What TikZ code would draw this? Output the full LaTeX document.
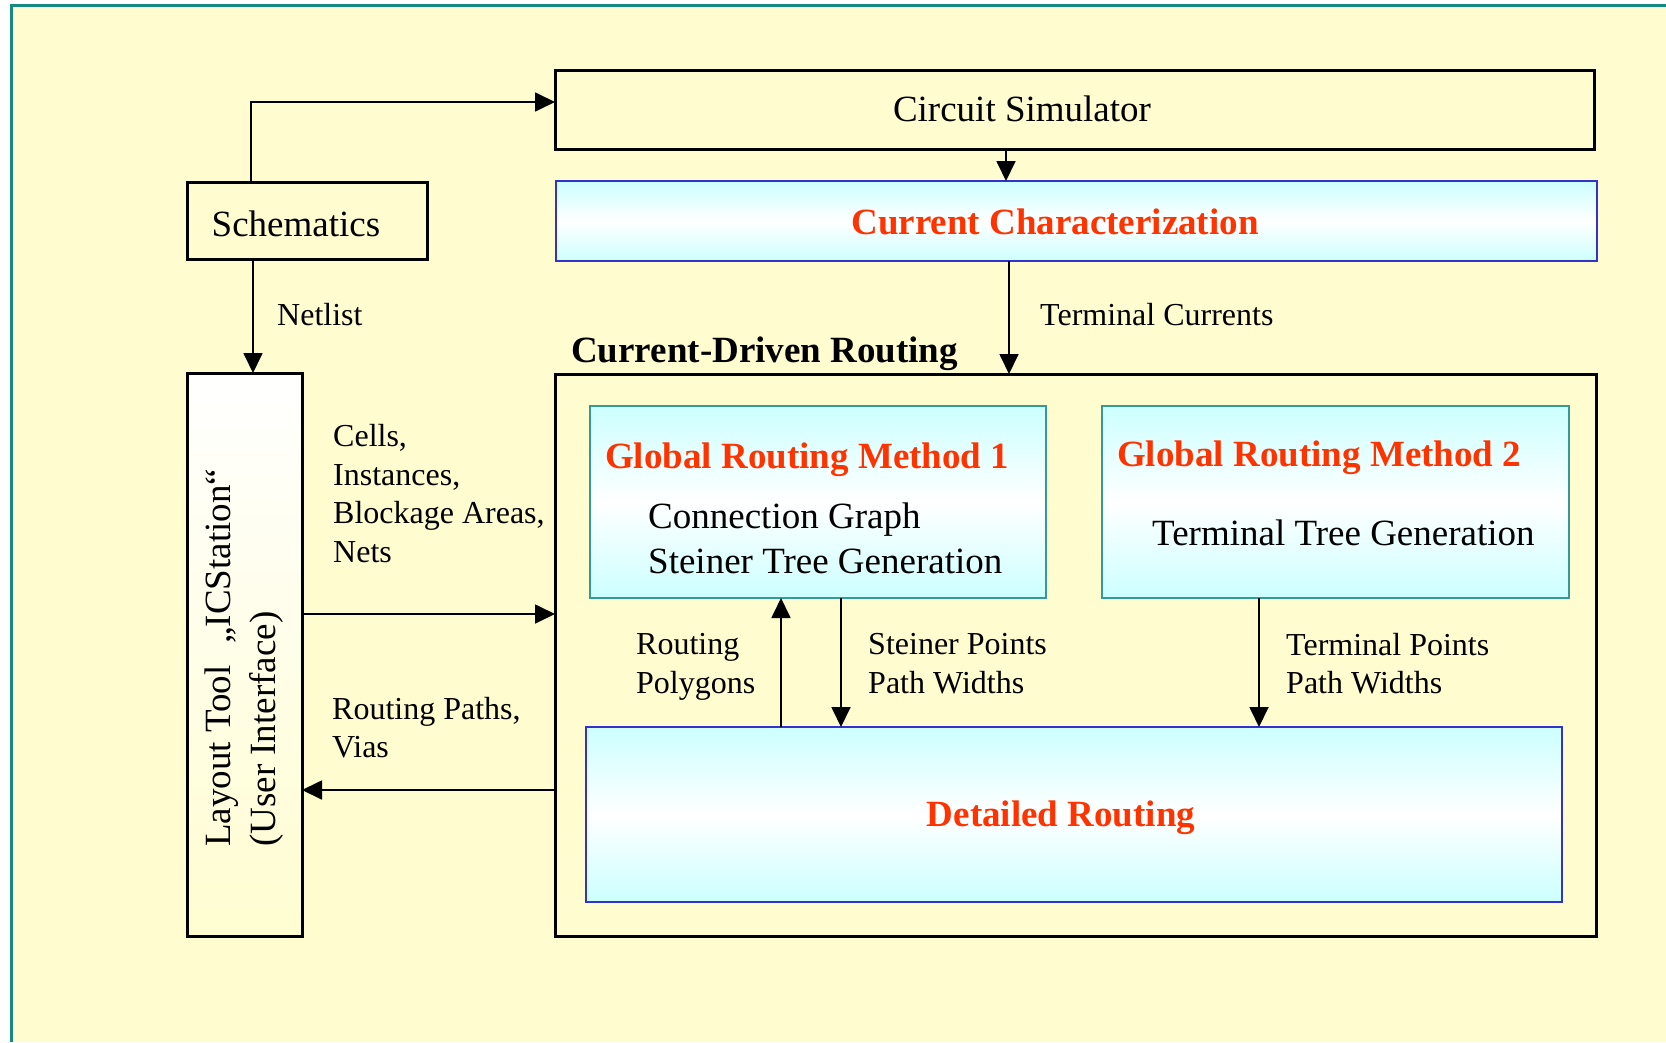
\documentclass[tikz,border=0pt]{standalone}
\usepackage{fontspec}
\setmainfont{Liberation Serif}
\usetikzlibrary{arrows.meta}
\definecolor{bgy}{RGB}{255,253,208}
\definecolor{frameteal}{RGB}{22,138,128}
\definecolor{cyanl}{RGB}{204,255,255}
\definecolor{redt}{RGB}{255,51,0}
\definecolor{blueb}{RGB}{51,51,204}
\definecolor{tealb}{RGB}{51,153,153}
\begin{document}
\begin{tikzpicture}[x=1pt,y=-1pt,
  big/.style={font=\fontsize{37}{45}\selectfont, inner sep=0pt},
  bigb/.style={font=\fontsize{37}{45}\selectfont\bfseries, inner sep=0pt},
  small/.style={font=\fontsize{32}{38.5}\selectfont, inner sep=0pt, align=left, anchor=west},
  box/.style={draw, inner sep=0pt, outer sep=0pt},
  plainbox/.style={box, draw=black, line width=3pt, fill=bgy},
  bluebox/.style={box, draw=blueb, line width=2.5pt, top color=cyanl, bottom color=cyanl, middle color=white},
  tealbox/.style={box, draw=tealb, line width=2pt, top color=cyanl, bottom color=cyanl, middle color=white},
  arr/.style={line width=1.8pt, -{Triangle[length=20pt,width=19pt]}},
  ]
\useasboundingbox (0,0) rectangle (1666,1042);
\fill[white] (0,0) rectangle (1666,1042);
\fill[bgy] (11,5) rectangle (1666,1042);
\draw[frameteal, line width=3pt] (11,1042) -- (11,5) -- (1666,5);

% boxes
\node[plainbox, minimum width=1039pt, minimum height=79pt] (sim) at (1074.5,109.5) {};
\node[bluebox, minimum width=1041pt, minimum height=80pt] (cc) at (1076.5,221) {};
\node[plainbox, minimum width=240pt, minimum height=77pt] (sch) at (307,220.5) {};
\node[box, draw=black, line width=3pt, top color=white, bottom color=bgy, minimum width=115pt, minimum height=563pt] (lt) at (244.5,654.5) {};
\node[box, draw=black, line width=3pt, minimum width=1041pt, minimum height=562pt] (cdr) at (1075.5,655) {};
\node[tealbox, minimum width=456pt, minimum height=192pt] (grm1) at (818,502) {};
\node[tealbox, minimum width=467pt, minimum height=192pt] (grm2) at (1335.5,502) {};
\node[bluebox, minimum width=976pt, minimum height=175pt] (dr) at (1074,814.5) {};

% box texts
\node[big] (simt) at (1022,109) {Circuit Simulator};
\node[bigb, text=redt] (cct) at (1055,222) {Current Characterization};
\node[big] (scht) at (296,224) {Schematics};
\node[big, rotate=90, anchor=west, align=left] (ltt) at (244,847) {Layout Tool\hspace{22pt}„ICStation“\\(User Interface)};
\node[bigb, anchor=west] (cdrt) at (571,354) {Current-Driven Routing};
\node[bigb, text=redt, anchor=west] (g1t) at (605,460) {Global Routing Method 1};
\node[big, anchor=west, align=left] (g1b) at (648,538.5) {Connection Graph\\Steiner Tree Generation};
\node[bigb, text=redt, anchor=west] (g2t) at (1117,458) {Global Routing Method 2};
\node[big, anchor=west] (g2b) at (1152,533) {Terminal Tree Generation};
\node[bigb, text=redt] (drt) at (1061,818) {Detailed Routing};

% labels
\node[small] (lnet) at (277,315) {Netlist};
\node[small] (lterm) at (1040,315) {Terminal Currents};
\node[small] (lcells) at (333,493.5) {Cells,\\Instances,\\Blockage Areas,\\Nets};
\node[small] (lpaths) at (332,727.5) {Routing Paths,\\Vias};
\node[small] (lpoly) at (636,667) {Routing\\Polygons};
\node[small] (lstein) at (868,663.5) {Steiner Points\\Path Widths};
\node[small] (ltp) at (1286,663.5) {Terminal Points\\Path Widths};

% connectors
\draw[arr] (sch.north -| 251,0) |- (sim.west |- 0,102);
\draw[arr] (sim.south -| 1006,0) -- (cc.north -| 1006,0);
\draw[arr] (cc.south -| 1009,0) -- (cdr.north -| 1009,0);
\draw[arr] (sch.south -| 253,0) -- (lt.north -| 253,0);
\draw[arr] (lt.east |- 0,614) -- (cdr.west |- 0,614);
\draw[arr] (cdr.west |- 0,790) -- (lt.east |- 0,790);
\draw[arr] (dr.north -| 781,0) -- (grm1.south -| 781,0);
\draw[arr] (grm1.south -| 841,0) -- (dr.north -| 841,0);
\draw[arr] (grm2.south -| 1259,0) -- (dr.north -| 1259,0);
\end{tikzpicture}
\end{document}
